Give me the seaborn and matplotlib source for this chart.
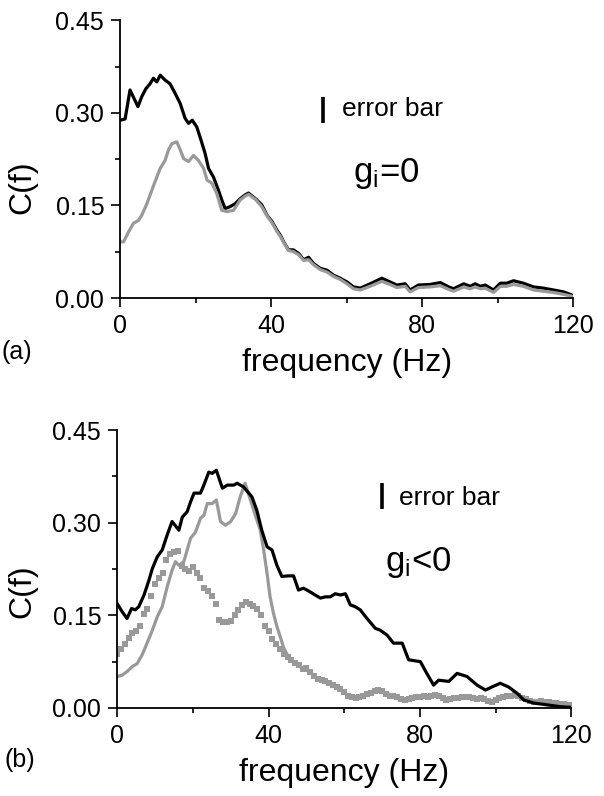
"""
Coherence spectra C(f) for g_i = 0 (a) and g_i < 0 (b), redrawn with seaborn.
"""

import matplotlib

matplotlib.use("Agg")
import matplotlib.pyplot as plt
import numpy as np
import seaborn as sns
from matplotlib.ticker import MultipleLocator

# ---- panel (a): g_i = 0 ------------------------------------------------------
a_black_f = [0, 1.3, 2.6, 4.7, 5.7, 6.8, 7.9, 8.8, 9.7, 10.6, 11.9, 13.2, 14.6, 15.9,
             17.2, 18.1, 19.1, 20.3, 21.4, 22.5, 23.4, 24.7, 26.0, 26.9, 27.8, 29.1,
             30.5, 31.8, 33.1, 34.0, 35.8, 37.5, 38.9, 40.2, 41.5, 42.4, 43.3, 44.6,
             45.9, 47.3, 48.6, 49.9, 51.2, 53.0, 54.8, 56.5, 58.3, 60.1, 61.8, 63.6,
             66.2, 69.3, 71.5, 73.3, 75.5, 76.8, 79.0, 82.1, 84.8, 87.0, 88.3, 91.0,
             92.7, 94.0, 95.4, 96.7, 98.9, 100.7, 102.4, 104.2, 106.8, 109.5, 112.1,
             114.8, 117.4, 119.6]
a_black_c = [0.288, 0.290, 0.337, 0.310, 0.326, 0.339, 0.347, 0.356, 0.350, 0.361,
             0.353, 0.347, 0.331, 0.315, 0.291, 0.283, 0.288, 0.277, 0.256, 0.234,
             0.210, 0.196, 0.175, 0.159, 0.145, 0.148, 0.153, 0.161, 0.167, 0.170,
             0.161, 0.151, 0.134, 0.124, 0.110, 0.102, 0.091, 0.078, 0.078, 0.072,
             0.062, 0.066, 0.056, 0.048, 0.045, 0.037, 0.032, 0.026, 0.018, 0.016,
             0.023, 0.032, 0.026, 0.021, 0.023, 0.013, 0.021, 0.022, 0.025, 0.018,
             0.015, 0.023, 0.019, 0.023, 0.019, 0.021, 0.013, 0.024, 0.024, 0.028,
             0.024, 0.018, 0.016, 0.013, 0.010, 0.005]

a_gray_f = [0, 0.9, 2.2, 3.5, 4.9, 5.7, 7.1, 8.4, 9.7, 10.6, 11.9, 12.8, 13.7, 15.0,
            15.9, 16.8, 18.1, 19.4, 20.7, 22.1, 23.0, 24.3, 25.6, 26.9, 28.3, 30.0,
            31.8, 33.1, 34.0, 35.8, 37.5, 38.9, 40.2, 41.5, 42.4, 43.3, 44.6, 45.9,
            47.3, 48.6, 49.9, 51.2, 53.0, 54.8, 56.5, 58.3, 60.1, 61.8, 63.6, 66.2,
            69.3, 71.5, 73.3, 75.5, 76.8, 79.0, 82.1, 84.8, 87.0, 88.3, 91.0, 92.7,
            94.0, 95.4, 96.7, 98.9, 100.7, 102.4, 104.2, 106.8, 109.5, 112.1, 114.8,
            117.4, 119.6]
a_gray_c = [0.091, 0.091, 0.107, 0.121, 0.126, 0.134, 0.153, 0.175, 0.196, 0.210,
            0.223, 0.240, 0.250, 0.253, 0.240, 0.226, 0.221, 0.231, 0.223, 0.210,
            0.191, 0.186, 0.169, 0.142, 0.140, 0.142, 0.159, 0.165, 0.168, 0.160,
            0.148, 0.133, 0.122, 0.108, 0.100, 0.090, 0.077, 0.075, 0.070, 0.061,
            0.062, 0.054, 0.046, 0.042, 0.035, 0.030, 0.023, 0.015, 0.013, 0.019,
            0.027, 0.022, 0.017, 0.019, 0.010, 0.017, 0.018, 0.020, 0.014, 0.011,
            0.018, 0.015, 0.018, 0.015, 0.016, 0.009, 0.019, 0.019, 0.022, 0.019,
            0.013, 0.011, 0.009, 0.006, 0.003]

# ---- panel (b): g_i < 0 ------------------------------------------------------
b_black_f = [0, 1.3, 2.6, 3.8, 4.8, 5.7, 7.1, 8.4, 9.3, 10.6, 11.9, 13.2, 14.5, 16.3,
             17.2, 18.5, 19.4, 20.3, 22.0, 22.9, 24.2, 25.1, 26.2, 27.8, 29.1, 30.8,
             31.7, 33.4, 35.6, 36.9, 38.2, 39.6, 40.9, 42.2, 43.5, 45.3, 46.6, 47.9,
             49.2, 51.0, 52.3, 53.7, 55.0, 56.3, 57.6, 59.0, 60.3, 61.6, 62.9, 64.2,
             66.0, 68.2, 69.5, 71.3, 73.0, 75.3, 77.0, 80.1, 81.8, 83.6, 84.9, 87.6,
             89.8, 92.4, 95.1, 97.3, 99.0, 101.2, 103.4, 105.6, 107.4, 110.0, 113.6,
             117.1, 120.0]
b_black_c = [0.169, 0.156, 0.145, 0.161, 0.159, 0.164, 0.183, 0.207, 0.226, 0.245,
             0.256, 0.280, 0.302, 0.288, 0.309, 0.318, 0.334, 0.348, 0.348, 0.361,
             0.382, 0.380, 0.385, 0.356, 0.361, 0.361, 0.364, 0.358, 0.342, 0.320,
             0.288, 0.261, 0.256, 0.231, 0.213, 0.214, 0.214, 0.191, 0.194, 0.188,
             0.183, 0.178, 0.180, 0.180, 0.185, 0.183, 0.185, 0.167, 0.164, 0.159,
             0.145, 0.129, 0.126, 0.118, 0.105, 0.105, 0.078, 0.075, 0.056, 0.037,
             0.045, 0.043, 0.056, 0.051, 0.037, 0.029, 0.034, 0.040, 0.034, 0.024,
             0.013, 0.008, 0.005, 0.002, 0.001]

b_gray_f = [0, 1.3, 2.6, 4.0, 5.3, 6.6, 7.9, 9.3, 10.6, 11.9, 13.2, 14.5, 15.4, 16.3,
            17.6, 18.5, 19.4, 20.7, 22.0, 22.9, 23.8, 25.1, 26.2, 27.3, 28.6, 30.0,
            31.3, 32.5, 33.8, 35.2, 36.5, 37.8, 38.7, 39.6, 40.4, 41.3, 42.2, 43.1,
            44.0, 45.3, 47, 49, 51, 53, 55, 57, 59, 61, 63, 65, 68, 70, 73, 76, 80,
            84, 88, 92, 96, 99, 103, 106, 110, 114, 117, 120]
b_gray_c = [0.051, 0.053, 0.059, 0.067, 0.072, 0.086, 0.105, 0.126, 0.148, 0.164,
            0.196, 0.223, 0.237, 0.231, 0.237, 0.256, 0.275, 0.285, 0.307, 0.312,
            0.331, 0.331, 0.337, 0.302, 0.296, 0.302, 0.315, 0.342, 0.364, 0.337,
            0.312, 0.288, 0.256, 0.218, 0.180, 0.153, 0.132, 0.115, 0.097, 0.082,
            0.072, 0.064, 0.058, 0.048, 0.043, 0.038, 0.030, 0.020, 0.016, 0.019,
            0.026, 0.027, 0.019, 0.014, 0.017, 0.020, 0.014, 0.017, 0.015, 0.010,
            0.018, 0.019, 0.011, 0.009, 0.007, 0.004]

# square-marker series, sampled every 1 Hz from 0 to 120 Hz
b_dots_f = np.arange(0, 121)
b_dots_c = [0.088, 0.095, 0.104, 0.114, 0.122, 0.125, 0.132, 0.152, 0.160, 0.182,
            0.200, 0.211, 0.218, 0.240, 0.250, 0.253, 0.254, 0.230, 0.225, 0.222,
            0.229, 0.218, 0.210, 0.195, 0.190, 0.182, 0.168, 0.142, 0.140, 0.140,
            0.141, 0.150, 0.158, 0.166, 0.171, 0.169, 0.165, 0.160, 0.150, 0.133,
            0.125, 0.112, 0.104, 0.095, 0.087, 0.082, 0.077, 0.073, 0.069, 0.063,
            0.064, 0.059, 0.052, 0.047, 0.045, 0.044, 0.041, 0.038, 0.034, 0.030,
            0.026, 0.020, 0.017, 0.016, 0.017, 0.019, 0.022, 0.025, 0.027, 0.029,
            0.027, 0.023, 0.020, 0.019, 0.017, 0.015, 0.013, 0.014, 0.016, 0.018,
            0.017, 0.019, 0.018, 0.020, 0.021, 0.019, 0.016, 0.013, 0.014, 0.016,
            0.016, 0.017, 0.018, 0.018, 0.016, 0.015, 0.016, 0.014, 0.011, 0.010,
            0.013, 0.016, 0.018, 0.019, 0.020, 0.021, 0.019, 0.016, 0.014, 0.012,
            0.010, 0.010, 0.011, 0.010, 0.009, 0.008, 0.008, 0.007, 0.006, 0.005,
            0.004]

# error bar size shown in each panel: (frequency, low, high)
a_errbar = (53.8, 0.283, 0.325)
b_errbar = (70.0, 0.322, 0.364)

x_ticks = [0, 40, 80, 120]
x_ticklabels = ["0", "40", "80", "120"]
y_ticks = [0.00, 0.15, 0.30, 0.45]
y_ticklabels = ["0.00", "0.15", "0.30", "0.45"]

BLACK = "#000000"
GRAY = "#999999"
LW = 2.3


def style_axes(ax):
    ax.set_xlim(0, 120)
    ax.set_ylim(0, 0.45)
    ax.set_xticks(x_ticks, x_ticklabels)
    ax.set_yticks(y_ticks, y_ticklabels)
    ax.xaxis.set_minor_locator(MultipleLocator(20))
    ax.yaxis.set_minor_locator(MultipleLocator(0.075))
    sns.despine(ax=ax)
    for side in ("left", "bottom"):
        ax.spines[side].set_linewidth(1.3)
        ax.spines[side].set_color("black")
    ax.tick_params(which="major", direction="out", length=6.5, width=1.2,
                   labelsize=18, pad=5, colors="black")
    ax.tick_params(which="minor", direction="out", length=3.6, width=1.2, colors="black")
    ax.set_xlabel("frequency (Hz)", fontsize=23, color="black")
    ax.set_ylabel("C(f)", fontsize=23, color="black")
    ax.xaxis.label.set_va("center")
    ax.yaxis.label.set_va("center")
    ax.set_facecolor("white")


sns.set_theme(style="ticks")
plt.rcParams["font.family"] = ["Liberation Sans", "DejaVu Sans"]
plt.rcParams["mathtext.default"] = "regular"
plt.rcParams["text.color"] = "black"
plt.rcParams["axes.labelcolor"] = "black"

fig = plt.figure(figsize=(6.04, 7.96), dpi=100)
fig.patch.set_facecolor("white")
ax_a = fig.add_axes([0.199, 0.6256, 0.750, 0.349])
ax_b = fig.add_axes([0.194, 0.1106, 0.752, 0.349])

# (a)
sns.lineplot(x=a_black_f, y=a_black_c, ax=ax_a, color=BLACK, lw=LW, estimator=None)
sns.lineplot(x=a_gray_f, y=a_gray_c, ax=ax_a, color=GRAY, lw=LW, estimator=None)
style_axes(ax_a)
ax_a.xaxis.set_label_coords(0.5, -0.235)
ax_a.yaxis.set_label_coords(-0.216, 0.40)
ax_a.vlines(a_errbar[0], a_errbar[1], a_errbar[2], color=BLACK, lw=2.6)
ax_a.text(58.8, 0.306, "error bar", fontsize=19, va="center", ha="left")
ax_a.text(61.8, 0.188, "$g_{i}$=0", fontsize=25, va="baseline", ha="left")

# (b)
sns.scatterplot(x=b_dots_f, y=b_dots_c, ax=ax_b, color=GRAY, marker="s", s=17,
                linewidth=0, edgecolor=None)
sns.lineplot(x=b_gray_f, y=b_gray_c, ax=ax_b, color=GRAY, lw=LW, estimator=None)
sns.lineplot(x=b_black_f, y=b_black_c, ax=ax_b, color=BLACK, lw=LW, estimator=None)
style_axes(ax_b)
ax_b.xaxis.set_label_coords(0.5, -0.235)
ax_b.yaxis.set_label_coords(-0.209, 0.42)
ax_b.vlines(b_errbar[0], b_errbar[1], b_errbar[2], color=BLACK, lw=2.6)
ax_b.text(74.5, 0.340, "error bar", fontsize=19, va="center", ha="left")
ax_b.text(70.8, 0.222, "$g_{i}$<0", fontsize=25, va="baseline", ha="left")

fig.text(0.003, 1 - 352 / 796, "(a)", fontsize=18, va="center", ha="left")
fig.text(0.008, 1 - 760 / 796, "(b)", fontsize=18, va="center", ha="left")

fig.savefig("out.png", dpi=100, facecolor="white")
